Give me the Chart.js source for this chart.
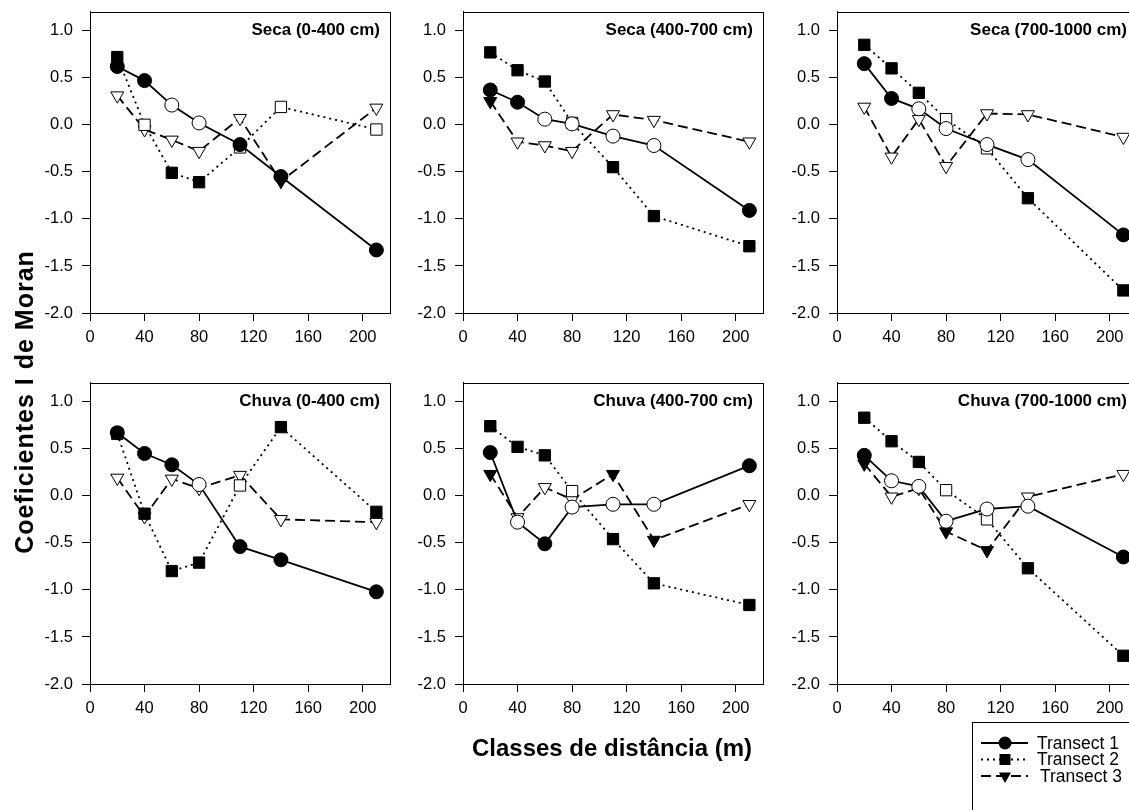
<!DOCTYPE html>
<html>
<head>
<meta charset="utf-8">
<script src="https://cdn.jsdelivr.net/npm/chart.js@4.4.0/dist/chart.umd.min.js"></script>
<style>
  html, body { margin: 0; padding: 0; background: #fff; overflow: hidden; width: 1129px; height: 810px; position: relative; }
  canvas { position: absolute; }
  .axis-title { position: absolute; font-family: 'Liberation Sans', Arial, sans-serif; font-weight: bold; color: #000; white-space: nowrap; text-align: center; }
  #xTitle { left: 412px; top: 736px; width: 400px; font-size: 24px; line-height: 24px; }
  #yTitle { left: -176px; top: 387px; width: 400px; height: 30px; font-size: 25px; line-height: 30px; letter-spacing: 1px; transform: rotate(-90deg); }
</style>
</head>
<body>
<canvas id="p1"></canvas>
<canvas id="p2"></canvas>
<canvas id="p3"></canvas>
<canvas id="p4"></canvas>
<canvas id="p5"></canvas>
<canvas id="p6"></canvas>
<div class="axis-title" id="xTitle">Classes de distância (m)</div>
<div class="axis-title" id="yTitle">Coeficientes I de Moran</div>
<script>
const distances = [20, 40, 60, 80, 110, 140, 210];
const xTicks = [0, 40, 80, 120, 160, 200];
const yTicks = [-2, -1.5, -1, -0.5, 0, 0.5, 1];
const seriesNames = ['Transect 1', 'Transect 2', 'Transect 3'];
const panelTitles = ['Seca (0-400 cm)', 'Seca (400-700 cm)', 'Seca (700-1000 cm)',
  'Chuva (0-400 cm)', 'Chuva (400-700 cm)', 'Chuva (700-1000 cm)'];

// values + significance (1 = filled symbol, 0 = open symbol)
// Seca (0-400 cm)
const seca1_t1 = [0.62, 0.47, 0.21, 0.02, -0.21, -0.55, -1.33];
const seca1_t1Sig = [1, 1, 0, 0, 1, 1, 1];
const seca1_t2 = [0.72, 0.00, -0.51, -0.61, -0.24, 0.19, -0.05];
const seca1_t2Sig = [1, 0, 1, 1, 0, 0, 0];
const seca1_t3 = [0.31, -0.05, -0.16, -0.28, 0.07, -0.60, 0.18];
const seca1_t3Sig = [0, 0, 0, 0, 0, 1, 0];

// Seca (400-700 cm)
const seca2_t1 = [0.37, 0.24, 0.06, 0.01, -0.12, -0.22, -0.91];
const seca2_t1Sig = [1, 1, 0, 0, 0, 0, 1];
const seca2_t2 = [0.77, 0.58, 0.46, 0.02, -0.45, -0.97, -1.29];
const seca2_t2Sig = [1, 1, 1, 0, 1, 1, 1];
const seca2_t3 = [0.25, -0.18, -0.22, -0.28, 0.11, 0.05, -0.18];
const seca2_t3Sig = [1, 0, 0, 0, 0, 0, 0];

// Seca (700-1000 cm)
const seca3_t1 = [0.65, 0.28, 0.17, -0.04, -0.21, -0.37, -1.17];
const seca3_t1Sig = [1, 1, 0, 0, 0, 0, 1];
const seca3_t2 = [0.85, 0.60, 0.34, 0.06, -0.25, -0.78, -1.76];
const seca3_t2Sig = [1, 1, 1, 0, 0, 1, 1];
const seca3_t3 = [0.19, -0.34, 0.06, -0.44, 0.12, 0.11, -0.13];
const seca3_t3Sig = [0, 0, 0, 0, 0, 0, 0];

// Chuva (0-400 cm)
const chuva1_t1 = [0.67, 0.45, 0.33, 0.12, -0.54, -0.68, -1.02];
const chuva1_t1Sig = [1, 1, 1, 0, 1, 1, 1];
const chuva1_t2 = [0.66, -0.19, -0.80, -0.71, 0.11, 0.73, -0.17];
const chuva1_t2Sig = [1, 1, 1, 1, 0, 1, 1];
const chuva1_t3 = [0.19, -0.22, 0.18, 0.08, 0.22, -0.25, -0.28];
const chuva1_t3Sig = [0, 0, 0, 0, 0, 0, 0];

// Chuva (400-700 cm)
const chuva2_t1 = [0.46, -0.28, -0.51, -0.12, -0.09, -0.09, 0.32];
const chuva2_t1Sig = [1, 0, 1, 0, 0, 0, 1];
const chuva2_t2 = [0.74, 0.52, 0.43, 0.05, -0.46, -0.93, -1.16];
const chuva2_t2Sig = [1, 1, 1, 0, 1, 1, 1];
const chuva2_t3 = [0.23, -0.23, 0.09, -0.04, 0.23, -0.47, -0.09];
const chuva2_t3Sig = [1, 0, 0, 0, 1, 1, 0];

// Chuva (700-1000 cm)
const chuva3_t1 = [0.43, 0.16, 0.10, -0.27, -0.14, -0.11, -0.65];
const chuva3_t1Sig = [1, 0, 0, 0, 0, 0, 1];
const chuva3_t2 = [0.83, 0.58, 0.36, 0.06, -0.25, -0.77, -1.70];
const chuva3_t2Sig = [1, 1, 1, 0, 0, 1, 1];
const chuva3_t3 = [0.34, -0.01, 0.08, -0.38, -0.58, -0.01, 0.23];
const chuva3_t3Sig = [1, 0, 0, 1, 1, 0, 0];

const FONT = "'Liberation Sans', Arial, sans-serif";
const AXIS_W = 80, PAD_TOP = 12, PAD_RIGHT = 10, X_AXIS_H = 30;
const PLOT_W = 300, PLOT_H = 301;
const colLeft = [90, 463, 837];
const rowTop = [12, 383];
const LEGEND_PAD = 96;

Chart.defaults.font.family = FONT;
Chart.defaults.font.size = 16.5;
Chart.defaults.color = '#000';

const styles = [
  { pointStyle: 'circle', radius: 7, rotation: 0, dash: [] },
  { pointStyle: 'rect', radius: 8, rotation: 0, dash: [2, 4] },
  { pointStyle: 'triangle', radius: 7.5, rotation: 180, dash: [10, 5] }
];

function makeDataset(i, vals, sig) {
  const st = styles[i];
  return {
    label: seriesNames[i],
    data: distances.map((d, k) => ({ x: d, y: vals[k] })),
    borderColor: '#000',
    borderWidth: 1.8,
    borderDash: st.dash,
    tension: 0,
    fill: false,
    pointStyle: st.pointStyle,
    pointRadius: st.radius,
    pointRotation: st.rotation,
    pointBorderWidth: 1,
    pointBorderColor: '#000',
    pointBackgroundColor: sig.map(s => s ? '#000' : '#fff')
  };
}

const framePlugin = {
  id: 'frame',
  afterDraw(chart, args, opts) {
    const { ctx, chartArea: a } = chart;
    ctx.save();
    ctx.strokeStyle = '#000';
    ctx.lineWidth = 1;
    ctx.strokeRect(Math.round(a.left) + 0.5, Math.round(a.top) + 0.5,
      Math.round(a.right - a.left), Math.round(a.bottom - a.top));
    ctx.font = 'bold 17px ' + FONT;
    ctx.textAlign = 'right';
    ctx.textBaseline = 'alphabetic';
    ctx.fillStyle = '#000';
    ctx.fillText(opts.title, a.right - 10, a.top + 23);
    ctx.restore();
  }
};

function drawMarker(ctx, shape, x, y) {
  ctx.beginPath();
  if (shape === 'circle') {
    ctx.arc(x, y, 6.5, 0, Math.PI * 2);
  } else if (shape === 'rect') {
    ctx.rect(x - 5.5, y - 5.5, 11, 11);
  } else {
    const r = 7;
    ctx.moveTo(x, y + r);
    ctx.lineTo(x - r * 0.866, y - r / 2);
    ctx.lineTo(x + r * 0.866, y - r / 2);
    ctx.closePath();
  }
  ctx.fill();
}

const legendPlugin = {
  id: 'moranLegend',
  afterDraw(chart) {
    const { ctx, chartArea: a } = chart;
    const left = Math.round(a.left) + 135;
    const top = Math.round(a.bottom) + 38;
    ctx.save();
    ctx.strokeStyle = '#000';
    ctx.fillStyle = '#000';
    ctx.lineWidth = 1;
    ctx.strokeRect(left + 0.5, top + 0.5, 300, 200);
    seriesNames.forEach((name, i) => {
      const y = top + 21 + i * 16.5;
      ctx.lineWidth = 1.8;
      ctx.setLineDash(styles[i].dash);
      ctx.beginPath();
      ctx.moveTo(left + 9, y);
      ctx.lineTo(left + 56, y);
      ctx.stroke();
      ctx.setLineDash([]);
      drawMarker(ctx, styles[i].pointStyle, left + 33, y);
      ctx.font = '17.5px ' + FONT;
      ctx.textAlign = 'left';
      ctx.textBaseline = 'middle';
      ctx.fillText(name, left + 65 + (i === 2 ? 3 : 0), y + 1);
    });
    ctx.restore();
  }
};

const panelData = [
  [[seca1_t1, seca1_t1Sig], [seca1_t2, seca1_t2Sig], [seca1_t3, seca1_t3Sig]],
  [[seca2_t1, seca2_t1Sig], [seca2_t2, seca2_t2Sig], [seca2_t3, seca2_t3Sig]],
  [[seca3_t1, seca3_t1Sig], [seca3_t2, seca3_t2Sig], [seca3_t3, seca3_t3Sig]],
  [[chuva1_t1, chuva1_t1Sig], [chuva1_t2, chuva1_t2Sig], [chuva1_t3, chuva1_t3Sig]],
  [[chuva2_t1, chuva2_t1Sig], [chuva2_t2, chuva2_t2Sig], [chuva2_t3, chuva2_t3Sig]],
  [[chuva3_t1, chuva3_t1Sig], [chuva3_t2, chuva3_t2Sig], [chuva3_t3, chuva3_t3Sig]]
];

panelData.forEach((series, p) => {
  const col = p % 3, row = Math.floor(p / 3);
  const isLast = p === 5;
  const extraBottom = isLast ? LEGEND_PAD : 0;
  const canvas = document.getElementById('p' + (p + 1));
  const w = AXIS_W + PLOT_W + PAD_RIGHT;
  canvas.width = w;
  canvas.height = PAD_TOP + PLOT_H + X_AXIS_H + extraBottom;

  const chart = new Chart(canvas, {
    type: 'line',
    data: {
      datasets: series.map((s, i) => makeDataset(i, s[0], s[1]))
    },
    options: {
      responsive: false,
      maintainAspectRatio: false,
      animation: false,
      events: [],
      layout: { padding: { top: PAD_TOP, right: PAD_RIGHT, left: 0, bottom: extraBottom } },
      plugins: {
        legend: { display: false },
        tooltip: { enabled: false },
        frame: { title: panelTitles[p] }
      },
      scales: {
        x: {
          type: 'linear',
          min: 0,
          max: 220,
          afterBuildTicks: scale => { scale.ticks = xTicks.map(v => ({ value: v })); },
          afterFit: scale => { scale.height = X_AXIS_H; },
          ticks: { padding: 7, maxRotation: 0, callback: v => String(v) },
          grid: { display: true, drawOnChartArea: false, drawTicks: true, tickLength: 8, color: '#000', lineWidth: 1 },
          border: { display: true, color: '#000', width: 1 }
        },
        y: {
          type: 'linear',
          min: -2,
          max: 1.2,
          afterBuildTicks: scale => { scale.ticks = yTicks.map(v => ({ value: v })); },
          afterFit: scale => { scale.width = AXIS_W; },
          ticks: { padding: 9, callback: v => Number(v).toFixed(1) },
          grid: { display: true, drawOnChartArea: false, drawTicks: true, tickLength: 8, color: '#000', lineWidth: 1 },
          border: { display: true, color: '#000', width: 1 }
        }
      }
    },
    plugins: isLast ? [framePlugin, legendPlugin] : [framePlugin]
  });

  // the layout adds its own top space; grow the canvas so the plot keeps its height
  const topSpace = Math.round(chart.chartArea.top);
  chart.resize(w, topSpace + PLOT_H + X_AXIS_H + extraBottom);
  canvas.style.left = (colLeft[col] - AXIS_W) + 'px';
  canvas.style.top = (rowTop[row] - Math.round(chart.chartArea.top)) + 'px';
});
</script>
</body>
</html>
